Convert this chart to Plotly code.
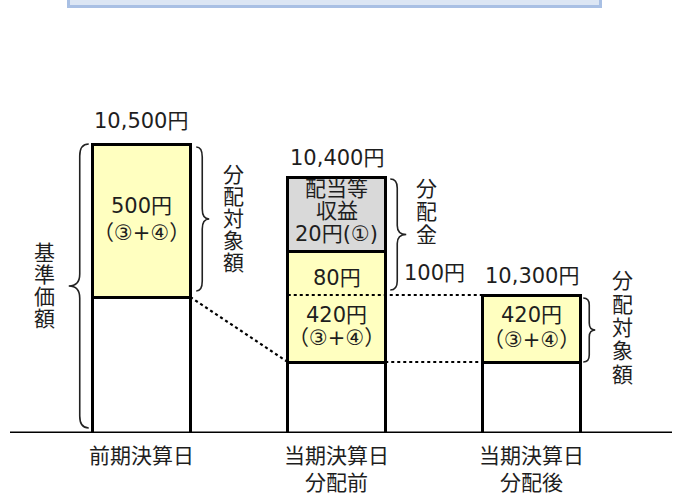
import plotly.graph_objects as go

# ---- data (schematic diagram: heights are not to scale) ----
categories = ["前期決算日", "当期決算日<br>分配前", "当期決算日<br>分配後"]
nav_labels = ["10,500円", "10,400円", "10,300円"]
base_heights = [136, 71, 71]            # white part of NAV
target_heights = [153, 111, 67]         # yellow part (分配対象額)
income_heights = [None, 74, None]       # gray part (配当等収益)
kept_target_heights = [None, 67, None]  # part of yellow kept after distribution
target_texts = [["500円", "（③+④）"], ["420円", "（③+④）"], ["420円", "（③+④）"]]
paid_target_text = "80円"
income_text = ["配当等", "収益", "20円(①)"]
distribution_text = "100円"

W, H = 676, 498
x_range = [-0.7256, 2.741]
y_range = [0, 433]
bar_w = 0.5
ux = (x_range[1] - x_range[0]) / W   # x data units per pixel

FONT = "DejaVu Sans, Noto Sans CJK JP, sans-serif"
TXT = "#1e1e1e"
FS = 21

xs = [0, 1, 2]
fig = go.Figure()
fig.add_bar(x=xs, y=base_heights, width=bar_w,
            marker=dict(color="white", line=dict(color="black", width=3)))
fig.add_bar(x=xs, y=target_heights, width=bar_w,
            marker=dict(color="#ffffc0", line=dict(color="black", width=3)))
fig.add_bar(x=xs, y=income_heights, width=bar_w,
            marker=dict(color="#d9d9d9", line=dict(color="black", width=3)))

lefts = [x - bar_w / 2 for x in xs]
rights = [x + bar_w / 2 for x in xs]
base_top = base_heights
target_top = [b + t for b, t in zip(base_heights, target_heights)]
kept_top = [base_heights[1] + kept_target_heights[1]]
tops = [target_top[0], target_top[1] + income_heights[1], target_top[2]]

# dotted connectors
dot = dict(color="black", width=2.2, dash="dot")
fig.add_scatter(x=[rights[0], lefts[1]], y=[base_top[0], base_top[1]],
                mode="lines", line=dot, hoverinfo="skip")
fig.add_scatter(x=[lefts[1], lefts[2]], y=[kept_top[0], kept_top[0]],
                mode="lines", line=dot, hoverinfo="skip")
fig.add_scatter(x=[rights[1], lefts[2]], y=[base_top[1], base_top[2]],
                mode="lines", line=dot, hoverinfo="skip")

shapes = []
annotations = []


def brace(x_end, x_spine, x_tip, y_top, y_bot, r=10):
    ym = (y_top + y_bot) / 2
    p = (f"M {x_end},{y_top} Q {x_spine},{y_top} {x_spine},{y_top - r} "
         f"L {x_spine},{ym + r} Q {x_spine},{ym} {x_tip},{ym} "
         f"Q {x_spine},{ym} {x_spine},{ym - r} "
         f"L {x_spine},{y_bot + r} Q {x_spine},{y_bot} {x_end},{y_bot}")
    shapes.append(dict(type="path", path=p, xref="x", yref="y",
                       line=dict(color="#222", width=1.6)))


def text(t, x, y, size=FS):
    annotations.append(dict(text=t, x=x, y=y, xref="x", yref="y",
                            showarrow=False, xanchor="center", yanchor="middle",
                            font=dict(family=FONT, size=size, color=TXT)))


def lines(items, x, yc, pitch):
    n = len(items)
    for i, t in enumerate(items):
        text(t, x, yc + (n - 1) / 2 * pitch - i * pitch)


# braces
brace(lefts[0] - 4 * ux, lefts[0] - 13 * ux, lefts[0] - 24 * ux, tops[0], 5, r=12)
brace(rights[0] + 6 * ux, rights[0] + 12 * ux, rights[0] + 19 * ux,
      tops[0] - 3, base_top[0] + 6, r=10)
brace(rights[1] + 5 * ux, rights[1] + 12 * ux, rights[1] + 21 * ux,
      tops[1] - 2, kept_top[0] + 5, r=9)
brace(rights[2] + 3 * ux, rights[2] + 9 * ux, rights[2] + 15 * ux,
      tops[2] - 3, base_top[2], r=7)

# vertical labels
lines(list("基準価額"), lefts[0] - 48 * ux, (tops[0] + 5) / 2, 22)
lines(list("分配対象額"), rights[0] + 43 * ux, (tops[0] - 3 + base_top[0] + 6) / 2, 22)
lines(list("分配金"), rights[1] + 41 * ux, 221, 23)
text(distribution_text, rights[1] + 49 * ux, 160)
lines(list("分配対象額"), rights[2] + 42 * ux, 105, 23.3)

# NAV labels on top
for i in range(3):
    text(nav_labels[i], xs[i], tops[i] + (23 if i == 0 else 19))

# in-bar labels
lines(target_texts[0], xs[0], (base_top[0] + target_top[0]) / 2 + 1, 27)
lines(target_texts[1], xs[1], (base_top[1] + kept_top[0]) / 2 + 2, 23.5)
lines(target_texts[2], xs[2], (base_top[2] + target_top[2]) / 2 + 1, 25)
text(paid_target_text, xs[1], (kept_top[0] + target_top[1]) / 2 - 5)
lines(income_text, xs[1], (target_top[1] + tops[1]) / 2 + 3, 22.5)

# baseline and top box (box is cut off by the top edge of the picture)
shapes.append(dict(type="line", xref="paper", yref="y", x0=10 / W,
                   x1=672 / W, y0=0, y1=0,
                   line=dict(color="black", width=3)))
shapes.append(dict(type="rect", xref="paper", yref="y", x0=68.5 / W,
                   x1=600.5 / W, y0=426.5, y1=460, fillcolor="#dce6f4",
                   line=dict(color="#a9c0e4", width=3), layer="below"))

fig.update_layout(
    width=W, height=H, barmode="stack", showlegend=False,
    margin=dict(l=0, r=0, t=0, b=H - y_range[1]),
    plot_bgcolor="white", paper_bgcolor="white",
    shapes=shapes, annotations=annotations,
    xaxis=dict(range=x_range, tickvals=xs, ticktext=categories, showgrid=False,
               zeroline=False, showline=False, ticks="", ticklabelstandoff=8,
               tickfont=dict(family=FONT, size=FS, color=TXT), fixedrange=True),
    yaxis=dict(range=y_range, showgrid=False, zeroline=False, showticklabels=False,
               fixedrange=True),
)
fig.write_html("out.html", config={"displayModeBar": False},
               post_script="document.body.style.margin='0';")
